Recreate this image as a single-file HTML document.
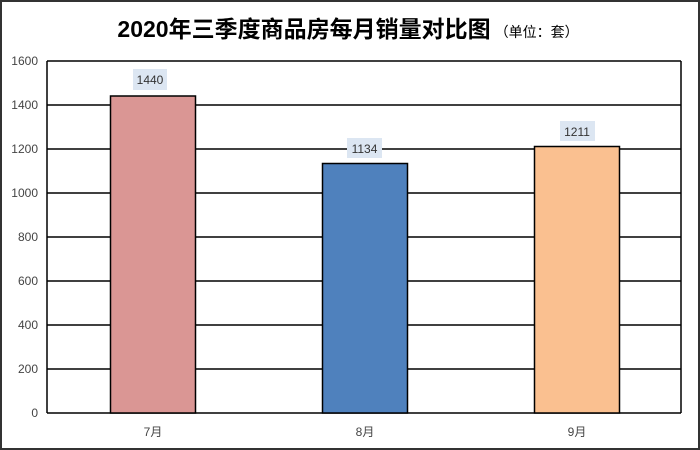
<!DOCTYPE html>
<html><head><meta charset="utf-8"><style>
html,body{margin:0;padding:0;background:#fff}
svg{display:block}
text{font-family:"Liberation Sans","Noto Sans CJK SC",sans-serif}
</style></head><body>
<svg width="700" height="450" viewBox="0 0 700 450" xmlns="http://www.w3.org/2000/svg">
<rect x="1" y="1" width="698" height="448" fill="#fff" stroke="#333" stroke-width="2"/>
<text x="348" y="37" text-anchor="middle" font-size="23" font-weight="bold" fill="#000">2020年三季度商品房每月销量对比图<tspan font-size="14" font-weight="normal" dx="4">（单位：套）</tspan></text>
<g stroke="#000" stroke-width="1.5">
<line x1="47" y1="61" x2="681" y2="61"/>
<line x1="47" y1="105" x2="681" y2="105"/>
<line x1="47" y1="149" x2="681" y2="149"/>
<line x1="47" y1="193" x2="681" y2="193"/>
<line x1="47" y1="237" x2="681" y2="237"/>
<line x1="47" y1="281" x2="681" y2="281"/>
<line x1="47" y1="325" x2="681" y2="325"/>
<line x1="47" y1="369" x2="681" y2="369"/>
<line x1="47" y1="413" x2="681" y2="413"/>
<line x1="47" y1="61" x2="47" y2="413"/>
<line x1="681" y1="61" x2="681" y2="413"/>
</g>
<g font-size="12" fill="#444" text-anchor="end">
<text x="38" y="65">1600</text><text x="38" y="109">1400</text><text x="38" y="153">1200</text>
<text x="38" y="197">1000</text><text x="38" y="241">800</text><text x="38" y="285">600</text>
<text x="38" y="329">400</text><text x="38" y="373">200</text><text x="38" y="417">0</text>
</g>
<rect x="110.5" y="96" width="85" height="317" fill="#da9694" stroke="#000" stroke-width="1.5"/>
<rect x="322.5" y="163.5" width="85" height="249.5" fill="#4f81bd" stroke="#000" stroke-width="1.5"/>
<rect x="534.5" y="146.5" width="85" height="266.5" fill="#fac090" stroke="#000" stroke-width="1.5"/>
<g font-size="12" fill="#333" text-anchor="middle">
<rect x="133" y="69" width="34" height="21" fill="#dce6f2"/><text x="150" y="84">1440</text>
<rect x="347" y="138" width="35" height="20" fill="#dce6f2"/><text x="364.5" y="153">1134</text>
<rect x="560" y="121" width="35" height="20" fill="#dce6f2"/><text x="577" y="136">1211</text>
</g>
<g font-size="12" fill="#444" text-anchor="middle">
<text x="153" y="436">7月</text><text x="365" y="436">8月</text><text x="577" y="436">9月</text>
</g>
</svg>
</body></html>
